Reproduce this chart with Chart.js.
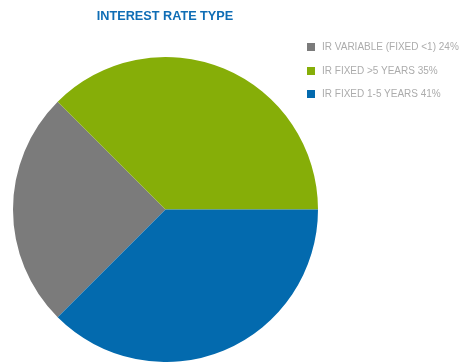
<!DOCTYPE html>
<html>
<head>
<meta charset="utf-8">
<script src="https://cdn.jsdelivr.net/npm/chart.js@4/dist/chart.umd.min.js"></script>
<style>
  html, body { margin: 0; padding: 0; background: #fff; }
  #wrap { position: relative; width: 461px; height: 362px; overflow: hidden; }
  #chart { position: absolute; left: 0; top: 0; }
  #title {
    position: absolute; left: 0; width: 330px; top: 9px; text-align: center;
    font: bold 12.7px "Liberation Sans", Arial, sans-serif; color: #0f6db5;
  }
  #legend { position: absolute; left: 307px; top: 41px; font: 10px "Liberation Sans", Arial, sans-serif; color: #acacac; }
  #legend .row { height: 23.5px; display: flex; align-items: flex-start; white-space: nowrap; }
  #legend .box { width: 8px; height: 8px; margin: 2px 7px 0 0; }
</style>
</head>
<body>
<div id="wrap">
  <canvas id="chart" width="461" height="362"></canvas>
  <div id="title"></div>
  <div id="legend"></div>
</div>
<script>
const chartTitle = "INTEREST RATE TYPE";
const categories = ["IR VARIABLE (FIXED <1) 24%", "IR FIXED >5 YEARS 35%", "IR FIXED 1-5 YEARS 41%"];
// slice sizes as drawn in the picture
const sliceValues = [25, 37.5, 37.5];
const sliceColors = ["#7b7b7b", "#86ae08", "#036aae"];

document.getElementById("title").textContent = chartTitle;

const legend = document.getElementById("legend");
categories.forEach((label, i) => {
  const row = document.createElement("div");
  row.className = "row";
  const box = document.createElement("div");
  box.className = "box";
  box.style.background = sliceColors[i];
  const text = document.createElement("span");
  text.textContent = label;
  row.appendChild(box);
  row.appendChild(text);
  legend.appendChild(row);
});

new Chart(document.getElementById("chart"), {
  type: "pie",
  data: {
    labels: categories,
    datasets: [{
      data: sliceValues,
      backgroundColor: sliceColors,
      borderWidth: 0,
    }],
  },
  options: {
    responsive: false,
    animation: false,
    rotation: 225,
    layout: { padding: { top: 57, left: 13, right: 143, bottom: 0 } },
    plugins: {
      legend: { display: false },
      title: { display: false },
      tooltip: { enabled: false },
    },
  },
});
</script>
</body>
</html>
